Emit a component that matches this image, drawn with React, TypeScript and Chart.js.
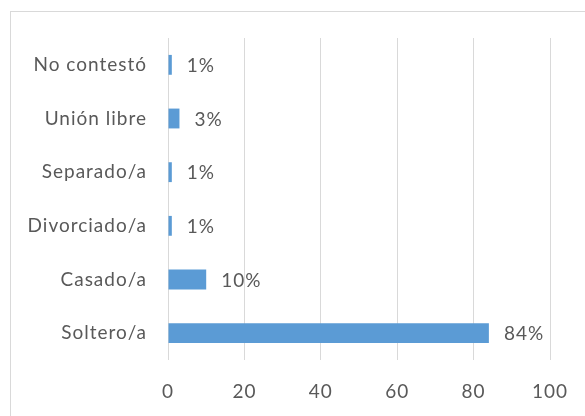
import React, { useEffect, useRef } from "react";
import { Chart, registerables } from "chart.js";

Chart.register(...registerables);

const categories = ["No contestó", "Unión libre", "Separado/a", "Divorciado/a", "Casado/a", "Soltero/a"];
const values = [1, 3, 1, 1, 10, 84];
const xTicks = [0, 20, 40, 60, 80, 100];

const FONT = "Lato";
const SIZE = 19;
const TEXT = "#595959";

const spacingPlugin = {
  id: "spacing",
  beforeLayout(chart: any) {
    chart.ctx.letterSpacing = "1px";
  },
  beforeDraw(chart: any) {
    chart.ctx.letterSpacing = "1px";
  },
};

const labelPlugin = {
  id: "barLabels",
  afterDatasetsDraw(chart: any) {
    const ctx = chart.ctx;
    const meta = chart.getDatasetMeta(0);
    ctx.save();
    ctx.letterSpacing = "1px";
    ctx.font = `${SIZE}px ${FONT}`;
    ctx.fillStyle = TEXT;
    ctx.textAlign = "left";
    ctx.textBaseline = "middle";
    meta.data.forEach((bar: any, i: number) => {
      ctx.fillText(`${values[i]}%`, bar.x + 15, bar.y + 1);
    });
    ctx.restore();
  },
};

export default function App() {
  const ref = useRef<HTMLCanvasElement>(null);
  useEffect(() => {
    if (!ref.current) return;
    const chart = new Chart(ref.current, {
      type: "bar",
      data: {
        labels: categories,
        datasets: [
          {
            data: values,
            backgroundColor: "#5B9BD5",
            borderWidth: 0,
            barPercentage: 0.37,
            categoryPercentage: 1,
          },
        ],
      },
      options: {
        indexAxis: "y",
        animation: false,
        responsive: false,
        devicePixelRatio: 1,
        layout: { padding: { top: 38, right: 35, left: 0, bottom: 0 } },
        plugins: { legend: { display: false }, tooltip: { enabled: false } },
        scales: {
          x: {
            min: 0,
            max: 100,
            afterBuildTicks(scale: any) {
              scale.ticks = xTicks.map((v) => ({ value: v }));
            },
            afterFit(scale: any) {
              scale.height = 56;
              scale.paddingLeft = 0;
              scale.paddingRight = 0;
            },
            grid: { color: "#d9d9d9", drawTicks: false, lineWidth: 1 },
            border: { display: false },
            ticks: { color: TEXT, font: { family: FONT, size: SIZE }, padding: 20, maxRotation: 0 },
          },
          y: {
            afterFit(scale: any) {
              scale.width = 168;
              scale.paddingTop = 0;
              scale.paddingBottom = 0;
            },
            grid: { display: false, drawTicks: false },
            border: { display: false },
            ticks: { color: TEXT, font: { family: FONT, size: SIZE }, padding: 21 },
          },
        },
      },
      plugins: [spacingPlugin, labelPlugin],
    });
    return () => chart.destroy();
  }, []);
  return (
    <div style={{ position: "absolute", left: 0, top: 0, width: 585, height: 416, overflow: "hidden", background: "#fff" }}>
      <div
        style={{
          position: "absolute",
          left: 10,
          top: 11,
          width: 620,
          height: 440,
          border: "1px solid #d9d9d9",
        }}
      />
      <canvas ref={ref} width={585} height={416} style={{ position: "absolute", left: 0, top: 0, width: 585, height: 416 }} />
    </div>
  );
}
